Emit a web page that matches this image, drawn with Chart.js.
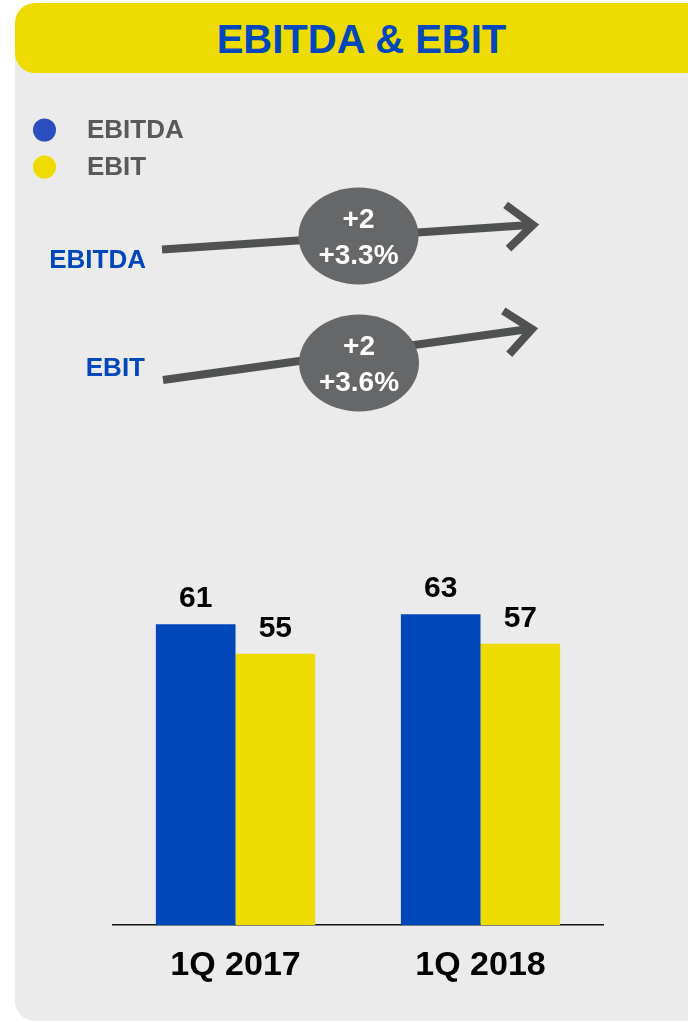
<!DOCTYPE html>
<html>
<head>
<meta charset="utf-8">
<script src="https://cdn.jsdelivr.net/npm/chart.js@4.4.0/dist/chart.umd.min.js"></script>
<style>
  html, body { margin: 0; padding: 0; background: #fff; }
  body { width: 688px; height: 1023px; position: relative; overflow: hidden; font-family: "Liberation Sans", Arial, sans-serif; }
  .painel { position: absolute; left: 15px; top: 40px; width: 673px; height: 981px; background: #ebebeb; border-bottom-left-radius: 20px; }
  .cabecalho { position: absolute; left: 15px; top: 3px; width: 673px; height: 70px; background: #eedc00; border-radius: 20px 0 0 20px; }
  .cabecalho h1 { margin: 0; font-size: 40px; line-height: 72px; font-weight: bold; color: #0047bb; text-align: center; padding-left: 20px; }
  #grafico { position: absolute; left: 0; top: 0; }
</style>
</head>
<body>
<div class="painel"></div>
<div class="cabecalho"><h1>EBITDA &amp; EBIT</h1></div>
<canvas id="grafico" width="688" height="1023"></canvas>

<script>
const categorias = ['1Q 2017', '1Q 2018'];
const series = ['EBITDA', 'EBIT'];
const ebitda = [61, 63];
const ebit = [55, 57];

const corBarras = ['#0047ba', '#eedc00'];
const corLegenda = ['#2b4dbe', '#eedc00'];
const FONTE = '"Liberation Sans", Arial, sans-serif';

// variação entre os dois trimestres, ex: "+2" e "+3.3%"
function variacao(valores) {
  const diff = valores[1] - valores[0];
  const pct = diff / valores[0] * 100;
  const sinal = diff >= 0 ? '+' : '';
  return [sinal + diff, sinal + pct.toFixed(1) + '%'];
}

function desenhaSeta(ctx, nome, posNome, linha, bolha, valores) {
  const [x0, y0, x1, y1] = linha;
  ctx.save();
  ctx.strokeStyle = '#505252';
  ctx.lineWidth = 8;
  ctx.lineCap = 'butt';
  ctx.beginPath();
  ctx.moveTo(x0, y0);
  ctx.lineTo(x1 - 3, y1);
  ctx.stroke();

  // ponta da seta
  const a = Math.atan2(y1 - y0, x1 - x0);
  const L = 34, abre = 0.7;
  ctx.lineJoin = 'miter';
  ctx.beginPath();
  ctx.moveTo(x1 - L * Math.cos(a + abre), y1 - L * Math.sin(a + abre));
  ctx.lineTo(x1, y1);
  ctx.lineTo(x1 - L * Math.cos(a - abre), y1 - L * Math.sin(a - abre));
  ctx.stroke();

  // bolha com a variação
  ctx.fillStyle = '#666768';
  ctx.beginPath();
  ctx.ellipse(bolha[0], bolha[1], 60, 48.5, 0, 0, Math.PI * 2);
  ctx.fill();

  const [abs, pct] = variacao(valores);
  ctx.fillStyle = '#fff';
  ctx.font = 'bold 28px ' + FONTE;
  ctx.textAlign = 'center';
  ctx.textBaseline = 'middle';
  ctx.fillText(abs, bolha[0], bolha[1] - 16);
  ctx.fillText(pct, bolha[0], bolha[1] + 20);

  // nome da métrica à esquerda
  ctx.fillStyle = '#0047ba';
  ctx.font = 'bold 26px ' + FONTE;
  ctx.textAlign = 'right';
  ctx.fillText(nome, posNome[0], posNome[1]);
  ctx.restore();
}

const decoracao = {
  id: 'decoracao',
  afterDraw(chart) {
    const ctx = chart.ctx;
    ctx.save();

    // legenda
    series.forEach((nome, i) => {
      const y = 130 + i * 37;
      ctx.fillStyle = corLegenda[i];
      ctx.beginPath();
      ctx.arc(44.5, y, 11.5, 0, Math.PI * 2);
      ctx.fill();
      ctx.fillStyle = '#595959';
      ctx.font = 'bold 26px ' + FONTE;
      ctx.textAlign = 'left';
      ctx.textBaseline = 'middle';
      ctx.fillText(nome, 87, y + 1);
    });
    ctx.restore();

    desenhaSeta(ctx, series[0], [146, 261], [162, 249.5, 533, 225], [358.5, 236], ebitda);
    desenhaSeta(ctx, series[1], [145, 368.5], [163, 380, 532, 329], [359, 363], ebit);
  }
};

// valores em cima das barras
const rotulos = {
  id: 'rotulos',
  afterDatasetsDraw(chart) {
    const ctx = chart.ctx;
    ctx.save();
    ctx.fillStyle = '#000';
    ctx.font = 'bold 30px ' + FONTE;
    ctx.textAlign = 'center';
    ctx.textBaseline = 'alphabetic';
    chart.data.datasets.forEach((ds, i) => {
      chart.getDatasetMeta(i).data.forEach((barra, j) => {
        ctx.fillText(String(ds.data[j]), barra.x, barra.y - 17);
      });
    });
    ctx.restore();
  }
};

new Chart(document.getElementById('grafico'), {
  type: 'bar',
  data: {
    labels: categorias,
    datasets: [
      { label: series[0], data: ebitda, backgroundColor: corBarras[0] },
      { label: series[1], data: ebit, backgroundColor: corBarras[1] }
    ]
  },
  options: {
    responsive: false,
    animation: false,
    events: [],
    categoryPercentage: 0.65,
    barPercentage: 1.0,
    layout: {
      padding: { left: 113, right: 85, top: 481, bottom: 17 }
    },
    plugins: {
      legend: { display: false },
      tooltip: { enabled: false }
    },
    scales: {
      y: {
        display: false,
        min: 0,
        max: 90
      },
      x: {
        grid: { display: false, drawTicks: false },
        border: { display: true, color: '#111', width: 1.5 },
        ticks: {
          color: '#000',
          padding: 20,
          font: { family: FONTE, size: 34, weight: 'bold' }
        }
      }
    }
  },
  plugins: [rotulos, decoracao]
});
</script>
</body>
</html>
